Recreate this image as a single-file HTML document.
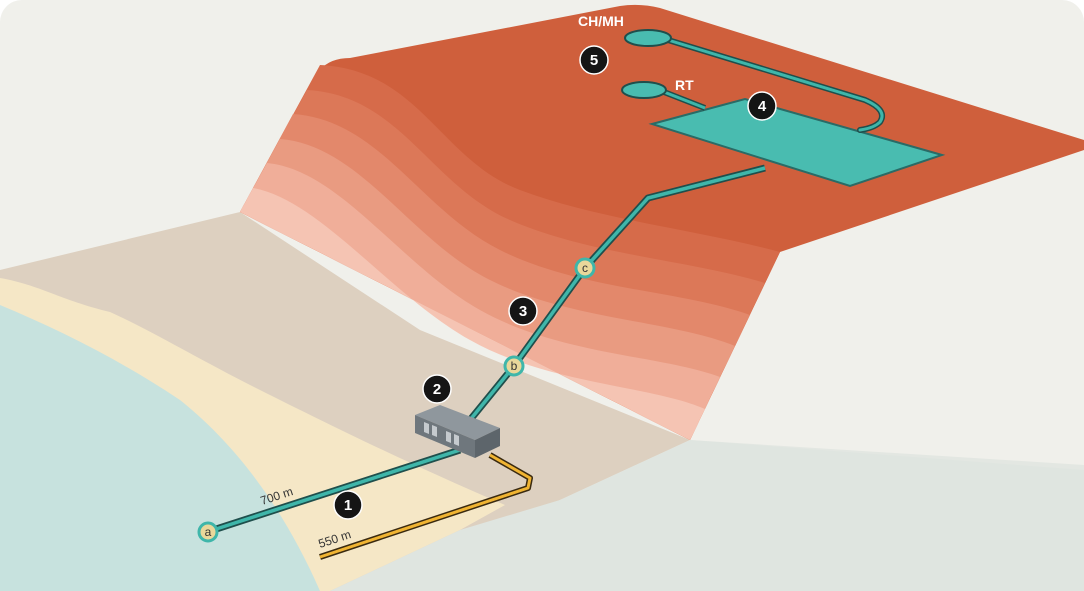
<!DOCTYPE html>
<html><head><meta charset="utf-8"><style>
html,body{margin:0;padding:0;background:#fff;}
svg{display:block;}
text{font-family:"Liberation Sans",sans-serif;}
</style></head><body>
<svg width="1084" height="591" viewBox="0 0 1084 591" xmlns="http://www.w3.org/2000/svg">
<rect x="0" y="0" width="1084" height="591" rx="22" fill="#f0f0eb"/>
<polygon points="690,440 1084,465 1084,591 330,591 560,500" fill="#e3e7e2"/>
<polygon points="0,270 240,212 420,330 690,440 560,500 330,591 0,591" fill="#ddd0c0"/>
<path d="M0,278 C40,285 60,300 110,312 C150,330 200,360 260,390 C320,420 400,460 505,505 L460,530 L330,591 L0,591 Z" fill="#f5e7c6"/>
<path d="M0,305 C60,330 120,360 180,400 C230,440 280,500 320,591 L0,591 Z" fill="#c7e2de"/>
<path d="M330,591 L460,530 L560,500 L690,440 L1084,470 L1084,591 Z" fill="#dfe5e0"/>
<!-- plateau -->
<path d="M240,212 L320,70 Q330,58 350,58 L620,6 Q640,3 660,8 L1084,140 L1084,150 L780,252 L690,440 Z" fill="#cf5f3c"/>
<!-- slope bands, each covering below its curve -->
<path d="M320,65 C420,70 440,160 520,190 C600,220 700,230 780,252 L690,440 L240,212 Z" fill="#d66b4a"/>
<path d="M307,90 C400,95 430,185 510,220 C590,255 690,260 765,283 L690,440 L240,212 Z" fill="#dc7858"/>
<path d="M293,114 C380,120 420,210 500,250 C580,290 680,290 750,315 L690,440 L240,212 Z" fill="#e3886b"/>
<path d="M280,139 C360,145 410,240 490,280 C570,320 670,320 735,346 L690,440 L240,212 Z" fill="#e99b81"/>
<path d="M267,163 C340,170 400,265 480,310 C560,355 660,355 720,377 L690,440 L240,212 Z" fill="#f0ae99"/>
<path d="M253,188 C320,200 390,295 470,340 C550,385 650,385 705,409 L690,440 L240,212 Z" fill="#f5c4b3"/>
<!-- pool 4 -->
<polygon points="652,124 745,99 942,155 850,186" fill="#49bcb0" stroke="#2a6b66" stroke-width="2"/>
<path d="M668,40 L865,100 Q888,110 880,122 Q874,128 860,130" fill="none" stroke="#1f4f4c" stroke-width="6" stroke-linecap="round"/>
<path d="M668,40 L865,100 Q888,110 880,122 Q874,128 860,130" fill="none" stroke="#3fb6aa" stroke-width="3" stroke-linecap="round"/>
<path d="M664,92 L705,108" fill="none" stroke="#1f4f4c" stroke-width="6"/>
<path d="M664,92 L705,108" fill="none" stroke="#3fb6aa" stroke-width="3"/>
<ellipse cx="648" cy="38" rx="23" ry="8" fill="#49bcb0" stroke="#1f4f4c" stroke-width="2"/>
<ellipse cx="644" cy="90" rx="22" ry="8" fill="#49bcb0" stroke="#1f4f4c" stroke-width="2"/>
<path d="M320,557 L528,488 L530,478 L490,455" fill="none" stroke="#3a2a10" stroke-width="6" stroke-linejoin="round"/>
<path d="M320,557 L528,488 L530,478 L490,455" fill="none" stroke="#f0b432" stroke-width="3" stroke-linejoin="round"/>
<path d="M207,532 L460,450 M470,420 L514,366 L585,268 L648,198 L765,168" fill="none" stroke="#1f4f4c" stroke-width="7" stroke-linejoin="round"/>
<path d="M207,532 L460,450 M470,420 L514,366 L585,268 L648,198 L765,168" fill="none" stroke="#3fb6aa" stroke-width="3.5" stroke-linejoin="round"/>
<polygon points="415,415 440,405 500,428 475,440" fill="#8f979d"/>
<polygon points="415,415 475,440 475,458 415,433" fill="#6f777d"/>
<polygon points="475,440 500,428 500,446 475,458" fill="#5d656b"/>
<rect x="424" y="422" width="5" height="10" fill="#c5cace" transform="skewY(22)" transform-origin="424 422"/>
<rect x="432" y="425" width="5" height="10" fill="#c5cace" transform="skewY(22)" transform-origin="432 425"/>
<rect x="446" y="431" width="5" height="10" fill="#c5cace" transform="skewY(22)" transform-origin="446 431"/>
<rect x="454" y="434" width="5" height="10" fill="#c5cace" transform="skewY(22)" transform-origin="454 434"/>
<g font-size="12" text-anchor="middle" fill="#333">
<circle cx="208" cy="532" r="9" fill="#e9d79a" stroke="#3fb6aa" stroke-width="3"/><text x="208" y="536">a</text>
<circle cx="514" cy="366" r="9" fill="#e9d79a" stroke="#3fb6aa" stroke-width="3"/><text x="514" y="370">b</text>
<circle cx="585" cy="268" r="9" fill="#e9d79a" stroke="#3fb6aa" stroke-width="3"/><text x="585" y="272">c</text>
</g>
<g font-size="15" font-weight="bold" text-anchor="middle" fill="#fff">
<circle cx="348" cy="505" r="14" fill="#151515" stroke="#fff" stroke-width="1.5"/><text x="348" y="510">1</text>
<circle cx="437" cy="389" r="14" fill="#151515" stroke="#fff" stroke-width="1.5"/><text x="437" y="394">2</text>
<circle cx="523" cy="311" r="14" fill="#151515" stroke="#fff" stroke-width="1.5"/><text x="523" y="316">3</text>
<circle cx="762" cy="106" r="14" fill="#151515" stroke="#fff" stroke-width="1.5"/><text x="762" y="111">4</text>
<circle cx="594" cy="60" r="14" fill="#151515" stroke="#fff" stroke-width="1.5"/><text x="594" y="65">5</text>
</g>
<text x="578" y="26" font-size="14" font-weight="bold" fill="#fff">CH/MH</text>
<text x="675" y="90" font-size="14" font-weight="bold" fill="#fff">RT</text>
<text x="262" y="505" font-size="12" fill="#333" transform="rotate(-18 262 505)">700 m</text>
<text x="320" y="548" font-size="12" fill="#333" transform="rotate(-18 320 548)">550 m</text>
</svg>
</body></html>
